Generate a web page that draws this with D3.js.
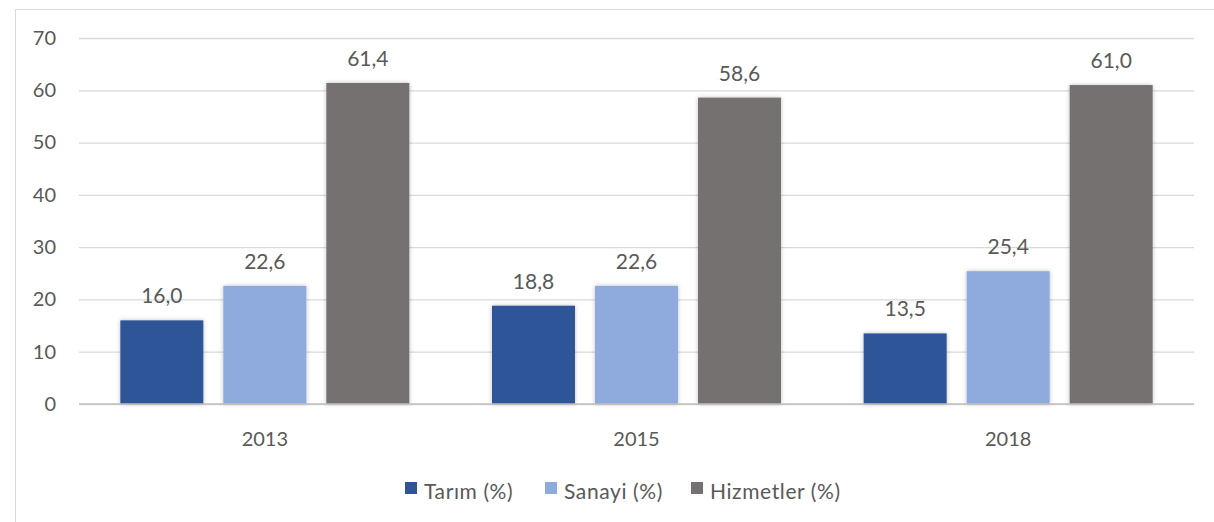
<!DOCTYPE html>
<html><head><meta charset="utf-8">
<script src="https://cdn.jsdelivr.net/npm/d3@7/dist/d3.min.js"></script>
<style>body{margin:0;background:#fff}svg{display:block}text{font-family:Lato,"Open Sans",sans-serif;fill:#595959}</style>
</head><body><svg id="c" width="1214" height="522"></svg>
<script>
const categories = ["2013","2015","2018"];
const seriesNames = ["Tarım (%)","Sanayi (%)","Hizmetler (%)"];
const tarim = [16.0,18.8,13.5];
const sanayi = [22.6,22.6,25.4];
const hizmetler = [61.4,58.6,61.0];
const yTicks = [0,10,20,30,40,50,60,70];
const colors = ["#2F5597","#8FAADC","#767171"];
const series = [tarim, sanayi, hizmetler];

const svg = d3.select("#c");
const defs = svg.append("defs");
const f = defs.append("filter").attr("id","sh").attr("x","-20%").attr("y","-20%").attr("width","140%").attr("height","140%");
f.append("feDropShadow").attr("dx",0).attr("dy",0).attr("stdDeviation",2).attr("flood-color","#000").attr("flood-opacity",0.25);

svg.append("rect").attr("x",15.5).attr("y",9.5).attr("width",1300).attr("height",600)
  .attr("fill","none").attr("stroke","#d9d9d9");

const L=79, R=1194, T=38, B=404;
const x0 = d3.scaleBand().domain(categories).range([L,R]).paddingInner(0).paddingOuter(0);
const x1 = d3.scaleBand().domain(d3.range(3)).range([x0.bandwidth()/2-144.5, x0.bandwidth()/2+144.5]).paddingInner(20/103).paddingOuter(0);
const y = d3.scaleLinear().domain([0,70]).range([B,T]);

const yAxis = d3.axisLeft(y).tickValues(yTicks).tickSize(-(R-L)).tickPadding(23).tickFormat(d3.format("d"));
const gy = svg.append("g").attr("transform",`translate(${L},0)`).call(yAxis);
gy.select(".domain").remove();
gy.selectAll(".tick line").attr("stroke","#d9d9d9").attr("stroke-width",1.3);
gy.selectAll(".tick text").style("font-size","20px").attr("fill","#595959");

const groups = svg.append("g").selectAll("g").data(categories).join("g")
  .attr("transform",d=>`translate(${x0(d)},0)`);
groups.selectAll("rect").data((d,i)=>series.map((s,k)=>({k,v:s[i]}))).join("rect")
  .attr("x",d=>x1(d.k)).attr("width",x1.bandwidth())
  .attr("y",d=>y(d.v)).attr("height",d=>y(0)-y(d.v))
  .attr("fill",d=>colors[d.k]).attr("filter","url(#sh)");
groups.selectAll("text").data((d,i)=>series.map((s,k)=>({k,v:s[i]}))).join("text")
  .attr("x",d=>x1(d.k)+x1.bandwidth()/2).attr("y",d=>y(d.v)-17)
  .attr("text-anchor","middle").style("font-size","21px")
  .text(d=>d3.format(".1f")(d.v).replace(".",","));

svg.append("line").attr("x1",L).attr("x2",R).attr("y1",y(0)).attr("y2",y(0)).attr("stroke","#bfbfbf").attr("stroke-width",1.3);

const xAxis = d3.axisBottom(x0).tickSize(0).tickPadding(0);
const gx = svg.append("g").attr("transform",`translate(0,${B})`).call(xAxis);
gx.select(".domain").remove();
gx.selectAll(".tick text").attr("dy",null).attr("y",42).style("font-size","20px").attr("fill","#595959");

const legX = [405,545,691];
const lg = svg.append("g").selectAll("g").data(seriesNames).join("g")
  .attr("transform",(d,i)=>`translate(${legX[i]},482)`);
lg.append("rect").attr("width",12).attr("height",12).attr("fill",(d,i)=>colors[i]);
lg.append("text").attr("x",19).attr("y",17).style("font-size","21px").style("letter-spacing","0.6px").text(d=>d);
</script></body></html>
